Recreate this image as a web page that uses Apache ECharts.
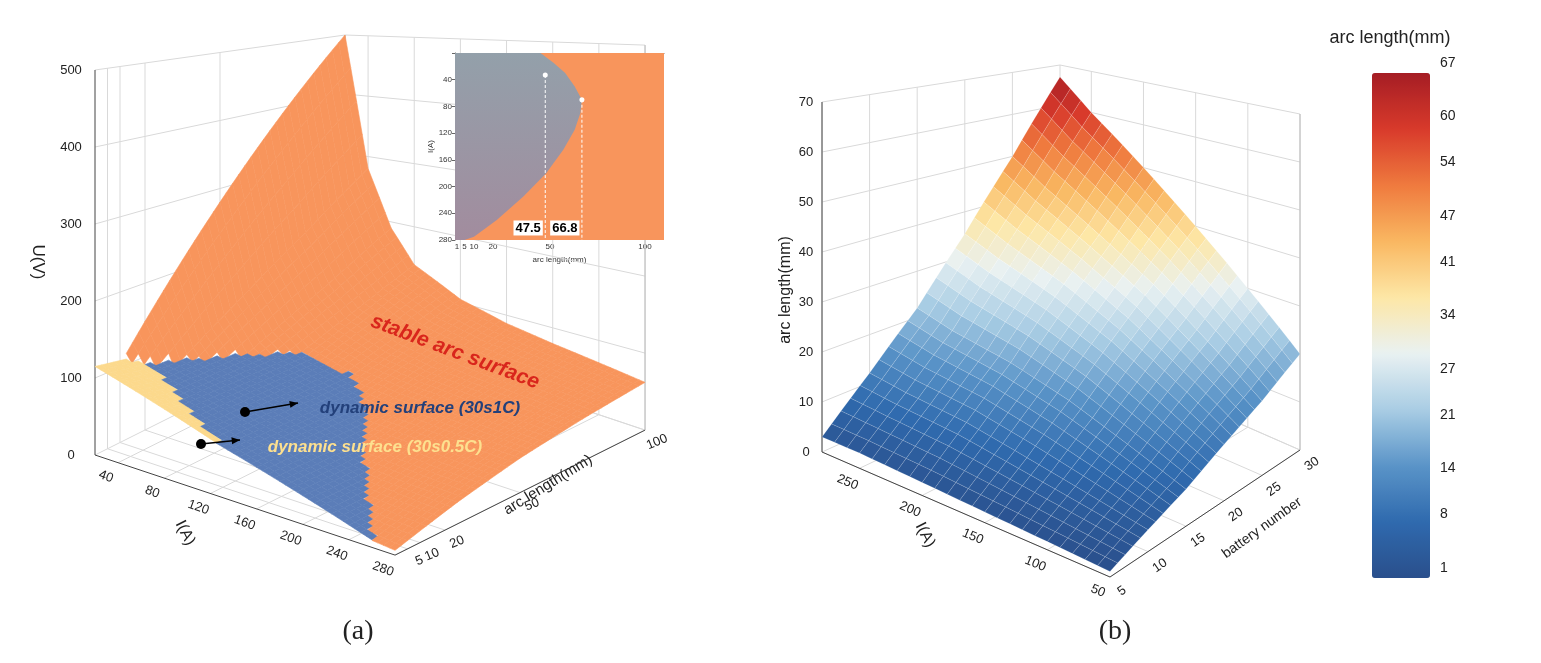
<!DOCTYPE html>
<html><head><meta charset="utf-8">
<script src="https://cdn.jsdelivr.net/npm/echarts@6/dist/echarts.min.js"></script>
<style>html,body{margin:0;padding:0;background:#fff}#c{width:1541px;height:663px}</style>
</head><body><div id="c"></div>
<script>
// ---------- DATA ----------
const I_A = [20, 40, 60, 80, 120, 160, 200, 240, 280];
const L_A = [0, 25, 50, 75, 100];
const U_ORANGE = [
  [60, 170, 280, 390, 500],
  [45, 95, 150, 210, 280],
  [38, 62, 100, 140, 190],
  [34, 52, 75, 105, 140],
  [28, 42, 58, 80, 105],
  [22, 36, 52, 68, 88],
  [16, 32, 48, 62, 78],
  [10, 27, 43, 57, 70],
  [5, 24, 40, 52, 62]
];
const I_PLANE = [20, 280];
const L_PLANE = [0, 100];
const U_BLUE = [[104, 104], [0, 0]];
const U_YELLOW = [[115, 55], [-15, -75]];
const U_TICKS = [0, 100, 200, 300, 400, 500];
const I_TICKS_A = [40, 80, 120, 160, 200, 240, 280];
const L_TICKS_A = [5, 10, 20, 50, 100];
const INSET_CURVE = [[45,0],[52,15],[58,30],[63,50],[66.8,70],[66,90],[63,115],[57,145],[48,180],[36,215],[22,250],[10,275],[5,280]];
const INSET_MARKS = [[47.5, 33], [66.8, 70]];
const INSET_X_LABELS = [1, 5, 10, 20, 50, 100];

const I_B = [50, 100, 150, 200, 250, 280];
const N_B = [5, 10, 15, 20, 25, 30];
const ARC_B = [
  [1, 4, 7, 11, 15, 20],
  [1.5, 6, 11, 17, 23, 30],
  [2, 8, 15, 23, 31, 40],
  [2.5, 10, 18, 28, 38, 50],
  [3, 11, 20, 32, 45, 60],
  [3, 12, 22, 35, 50, 67]
];
const Z_TICKS_B = [0, 10, 20, 30, 40, 50, 60, 70];
const I_TICKS_B = [50, 100, 150, 200, 250];
const N_TICKS_B = [5, 10, 15, 20, 25, 30];
const CBAR_TICKS = [1, 8, 14, 21, 27, 34, 41, 47, 54, 60, 67];

// ---------- helpers ----------
function seg(xs, x){ let i=0; while(i<xs.length-2 && x>xs[i+1]) i++; return [i,(x-xs[i])/(xs[i+1]-xs[i])]; }
function bil(xs, ys, g, x, y){
  const [i,t]=seg(xs,x), [j,u]=seg(ys,y);
  return g[i][j]*(1-t)*(1-u)+g[i+1][j]*t*(1-u)+g[i][j+1]*(1-t)*u+g[i+1][j+1]*t*u;
}
function PA(I,l,U){ const d=((280-I)/260 + l/100)/2; const k=0.95-0.36*d;
  return [95+(I-20)*1.154+l*2.5, 455+(I-20)*0.385-l*1.25-U*k]; }
// panel b: floor corners front(I=50,n=5), left(I=280,n=5), right(I=50,n=30), back(I=280,n=30)
const BF=[1110,577], BL=[822,452], BR=[1300,450], BK=[1060,345];
function PB(I,n,z){ const a=(I-50)/230, b=(n-5)/25;
  const x=BF[0]*(1-a)*(1-b)+BL[0]*a*(1-b)+BR[0]*(1-a)*b+BK[0]*a*b;
  const y=BF[1]*(1-a)*(1-b)+BL[1]*a*(1-b)+BR[1]*(1-a)*b+BK[1]*a*b;
  const k=5.6*(1-a)*(1-b)+5.0*a*(1-b)+4.8*(1-a)*b+4.0*a*b;
  return [x, y-z*k]; }

const ORANGE='#f8955c', BLUE='#5b7db8', YELLOW='#fcd98c';

const bCells=[];
for(let I=50;I<280;I+=10){ for(let n=5;n<30;n+=1){
  const I2=Math.min(I+10,280), n2=n+1;
  const z=[[I,n],[I2,n],[I2,n2],[I,n2]].map(p=>bil(I_B,N_B,ARC_B,p[0],p[1]));
  const avg=(z[0]+z[1]+z[2]+z[3])/4;
  const depth=((I+I2)/2-50)/230+((n+n2)/2-5)/25;
  bCells.push({value:[avg,I,I2,n,n2,z[0],z[1],z[2],z[3]],depth});
}}
bCells.sort((a,b)=>b.depth-a.depth);

const chart=echarts.init(document.getElementById('c'));
const txt=(x,y,s,o)=>({type:'text',x,y,rotation:(o&&o.rot)||0,style:Object.assign({text:s,font:'13px "Liberation Sans"',fill:'#222',align:'center',verticalAlign:'middle'},o&&o.style)});
const ln=(p,q,stroke,w,dash)=>({type:'line',shape:{x1:p[0],y1:p[1],x2:q[0],y2:q[1]},style:{stroke,lineWidth:w||1,lineDash:dash||null}});

function decorA(){
  const ch=[]; const G='#d9d9d9';
  U_TICKS.forEach(U=>{ ch.push(ln(PA(20,0,U),PA(20,100,U),G)); ch.push(ln(PA(20,100,U),PA(280,100,U),G)); });
  I_TICKS_A.forEach(I=>{ ch.push(ln(PA(I,0,0),PA(I,100,0),G)); ch.push(ln(PA(I,100,0),PA(I,100,500),G)); });
  L_TICKS_A.forEach(l=>{ ch.push(ln(PA(20,l,0),PA(280,l,0),G)); ch.push(ln(PA(20,l,0),PA(20,l,500),G)); });
  ch.push(ln(PA(20,0,0),PA(20,0,500),'#444'));
  ch.push(ln(PA(20,0,0),PA(280,0,0),'#444'));
  ch.push(ln(PA(280,0,0),PA(280,100,0),'#444'));
  ch.push(ln(PA(20,100,0),PA(20,100,500),'#bbb'));
  ch.push(ln(PA(280,100,0),PA(280,100,500),'#bbb'));
  U_TICKS.forEach(U=>{const p=PA(20,0,U); ch.push(txt(p[0]-24,p[1],String(U)));});
  I_TICKS_A.forEach(I=>{const p=PA(I,0,0); ch.push(txt(p[0]-12,p[1]+14,String(I),{rot:-0.35}));});
  L_TICKS_A.forEach(l=>{const p=PA(280,l,0); ch.push(txt(p[0]+12,p[1]+12,String(l),{rot:0.4}));});
  ch.push(txt(38,262,'U(V)',{rot:-Math.PI/2,style:{font:'17px "Liberation Sans"'}}));
  ch.push(txt(185,533,'I(A)',{rot:-1.1,style:{font:'16px "Liberation Sans"'}}));
  ch.push(txt(548,485,'arc length(mm)',{rot:0.55,style:{font:'15px "Liberation Sans"'}}));
  return ch;
}
function decorB(){
  const ch=[]; const G='#d9d9d9';
  Z_TICKS_B.forEach(z=>{ ch.push(ln(PB(280,5,z),PB(280,30,z),G)); ch.push(ln(PB(280,30,z),PB(50,30,z),G)); });
  I_TICKS_B.forEach(I=>{ ch.push(ln(PB(I,5,0),PB(I,30,0),G)); ch.push(ln(PB(I,30,0),PB(I,30,70),G)); });
  N_TICKS_B.forEach(n=>{ ch.push(ln(PB(50,n,0),PB(280,n,0),G)); ch.push(ln(PB(280,n,0),PB(280,n,70),G)); });
  ch.push(ln(PB(280,5,0),PB(280,5,70),'#444'));
  ch.push(ln(PB(280,5,0),PB(50,5,0),'#444'));
  ch.push(ln(PB(50,5,0),PB(50,30,0),'#444'));
  ch.push(ln(PB(50,30,0),PB(50,30,70),'#bbb'));
  Z_TICKS_B.forEach(z=>{const p=PB(280,5,z); ch.push(txt(p[0]-16,p[1],String(z)));});
  I_TICKS_B.forEach(I=>{const p=PB(I,5,0); ch.push(txt(p[0]-12,p[1]+14,String(I),{rot:-0.4}));});
  N_TICKS_B.forEach(n=>{const p=PB(50,n,0); ch.push(txt(p[0]+12,p[1]+14,String(n),{rot:0.6}));});
  ch.push(txt(786,290,'arc length(mm)',{rot:Math.PI/2,style:{font:'16px "Liberation Sans"'}}));
  ch.push(txt(925,535,'I(A)',{rot:-1.1,style:{font:'16px "Liberation Sans"'}}));
  ch.push(txt(1262,528,'battery number',{rot:0.62,style:{font:'14px "Liberation Sans"'}}));
  CBAR_TICKS.forEach(v=>{ const y=63+505*(1-(v-1)/66); ch.push(txt(1440,y,String(v),{style:{align:'left',font:'14px "Liberation Sans"'}})); });
  ch.push(txt(1390,38,'arc length(mm)',{style:{font:'18px "Liberation Sans"'}}));
  ch.push(txt(358,632,'(a)',{style:{font:'28px "Liberation Serif"'}}));
  ch.push(txt(1115,632,'(b)',{style:{font:'28px "Liberation Serif"'}}));
  return ch;
}
function surfA(){
  const polys=[];
  const surfs=[[I_A,L_A,U_ORANGE,ORANGE],[I_PLANE,L_PLANE,U_BLUE,BLUE],[I_PLANE,L_PLANE,U_YELLOW,YELLOW]];
  for(let I=20;I<280;I+=5){ for(let l=0;l<100;l+=2.5){
    const cI=I+2.5, cl=l+1.25;
    let best=null,bv=-1e9;
    surfs.forEach(s=>{const v=bil(s[0],s[1],s[2],cI,cl); if(v>bv){bv=v;best=s;}});
    const pts=[[I,l],[I+5,l],[I+5,l+2.5],[I,l+2.5]].map(p=>PA(p[0],p[1],Math.max(0,bil(best[0],best[1],best[2],p[0],p[1]))));
    polys.push({d:(280-cI)/260+cl/100,pts,c:best[3]});
  }}
  polys.sort((a,b)=>b.d-a.d);
  return polys.map(p=>({type:'polygon',shape:{points:p.pts},style:{fill:p.c,stroke:p.c,lineWidth:0.6}}));
}
function labelsA(){
  const ch=[];
  ch.push(txt(455,352,'stable arc surface',{rot:-0.36,style:{font:'bold italic 21px "Liberation Sans"',fill:'#d9261c'}}));
  ch.push(txt(420,408,'dynamic surface (30s1C)',{style:{font:'bold italic 17px "Liberation Sans"',fill:'#23407a'}}));
  ch.push(txt(375,447,'dynamic surface (30s0.5C)',{style:{font:'bold italic 17px "Liberation Sans"',fill:'#fde08f'}}));
  [[245,412,298,403],[201,444,240,440]].forEach(a=>{
    ch.push({type:'circle',shape:{cx:a[0],cy:a[1],r:5},style:{fill:'#000'}});
    ch.push(ln([a[0],a[1]],[a[2],a[3]],'#000',1.5));
    const ang=Math.atan2(a[3]-a[1],a[2]-a[0]);
    const h=s=>[a[2]-9*Math.cos(ang+s),a[3]-9*Math.sin(ang+s)];
    ch.push({type:'polygon',shape:{points:[[a[2],a[3]],h(0.4),h(-0.4)]},style:{fill:'#000'}});
  });
  return ch;
}

chart.setOption({
  animation:false,
  grid:[{left:0,top:0,right:0,bottom:0,show:false},{left:455,top:53,width:209,height:187,show:false}],
  xAxis:[{type:'value',min:0,max:1541,show:false,gridIndex:0},
    {type:'value',min:0,max:110,gridIndex:1,splitLine:{show:false},axisLine:{lineStyle:{color:'#666'}},
     axisTick:{customValues:INSET_X_LABELS,length:3},axisLabel:{customValues:INSET_X_LABELS,fontSize:8,margin:3,color:'#333'},
     name:'arc length(mm)',nameLocation:'middle',nameGap:16,nameTextStyle:{fontSize:8,color:'#333'}}],
  yAxis:[{type:'value',min:0,max:663,inverse:true,show:false,gridIndex:0},
    {type:'value',min:0,max:280,interval:40,inverse:true,gridIndex:1,splitLine:{show:false},axisLine:{show:true,lineStyle:{color:'#666'}},
     axisTick:{length:3},axisLabel:{fontSize:8,margin:3,color:'#333',formatter:v=>v===0?'':v},
     name:'I(A)',nameLocation:'middle',nameGap:20,nameRotate:90,nameTextStyle:{fontSize:8,color:'#333'}}],
  visualMap:{type:'continuous',min:1,max:67,seriesIndex:1,dimension:0,left:1357,top:58,itemWidth:58,itemHeight:505,
    text:null,showLabel:false,calculable:false,hoverLink:false,
    inRange:{color:['#2a4f8c','#2f6aae','#5a94c8','#a9cde4','#e9f1f2','#fde7a6','#f9b761','#ef7a3e','#d83a2b','#a51d24']}},
  series:[
    {type:'custom',xAxisIndex:0,yAxisIndex:0,data:[0],silent:true,z:1,
     renderItem:()=>({type:'group',children:decorA().concat(decorB())})},
    {type:'custom',xAxisIndex:0,yAxisIndex:0,data:bCells,silent:true,z:2,
     renderItem:(params,api)=>{
       const I=api.value(1),I2=api.value(2),n=api.value(3),n2=api.value(4);
       const pts=[PB(I,n,api.value(5)),PB(I2,n,api.value(6)),PB(I2,n2,api.value(7)),PB(I,n2,api.value(8))].map(p=>api.coord(p));
       const c=api.visual('color');
       return {type:'polygon',shape:{points:pts},style:{fill:c,stroke:'rgba(255,255,255,0.25)',lineWidth:0.5}};
     }},
    {type:'custom',xAxisIndex:0,yAxisIndex:0,data:[0],silent:true,z:3,
     renderItem:()=>({type:'group',children:surfA().concat(labelsA())})},
    {type:'custom',xAxisIndex:1,yAxisIndex:1,data:[0],silent:true,z:4,
     renderItem:(params,api)=>{
       const C=p=>api.coord(p); const ch=[];
       const a=C([0,0]),b=C([110,280]);
       ch.push({type:'rect',shape:{x:a[0],y:a[1],width:b[0]-a[0],height:b[1]-a[1]},style:{fill:ORANGE}});
       const poly=INSET_CURVE.map(C).concat([C([0,280]),C([0,0])]);
       ch.push({type:'polygon',shape:{points:poly},style:{fill:new echarts.graphic.LinearGradient(0,0,0,1,[{offset:0,color:'#93a0aa'},{offset:1,color:'#a28c9e'}])}});
       INSET_MARKS.forEach(m=>{const p=C(m),q=C([m[0],280]);
         ch.push({type:'line',shape:{x1:p[0],y1:p[1],x2:q[0],y2:q[1]},style:{stroke:'#fff',lineWidth:1,lineDash:[3,2]}});
         ch.push({type:'circle',shape:{cx:p[0],cy:p[1],r:2.5},style:{fill:'#fff'}});
         const t=C([m[0]-9,262]);
         ch.push({type:'text',x:t[0],y:t[1],style:{text:String(m[0]),font:'bold 13px "Liberation Sans"',fill:'#000',backgroundColor:'#fff',padding:[1,2],align:'center',verticalAlign:'middle'}});
       });
       return {type:'group',children:ch};
     }}
  ]
});
</script></body></html>
